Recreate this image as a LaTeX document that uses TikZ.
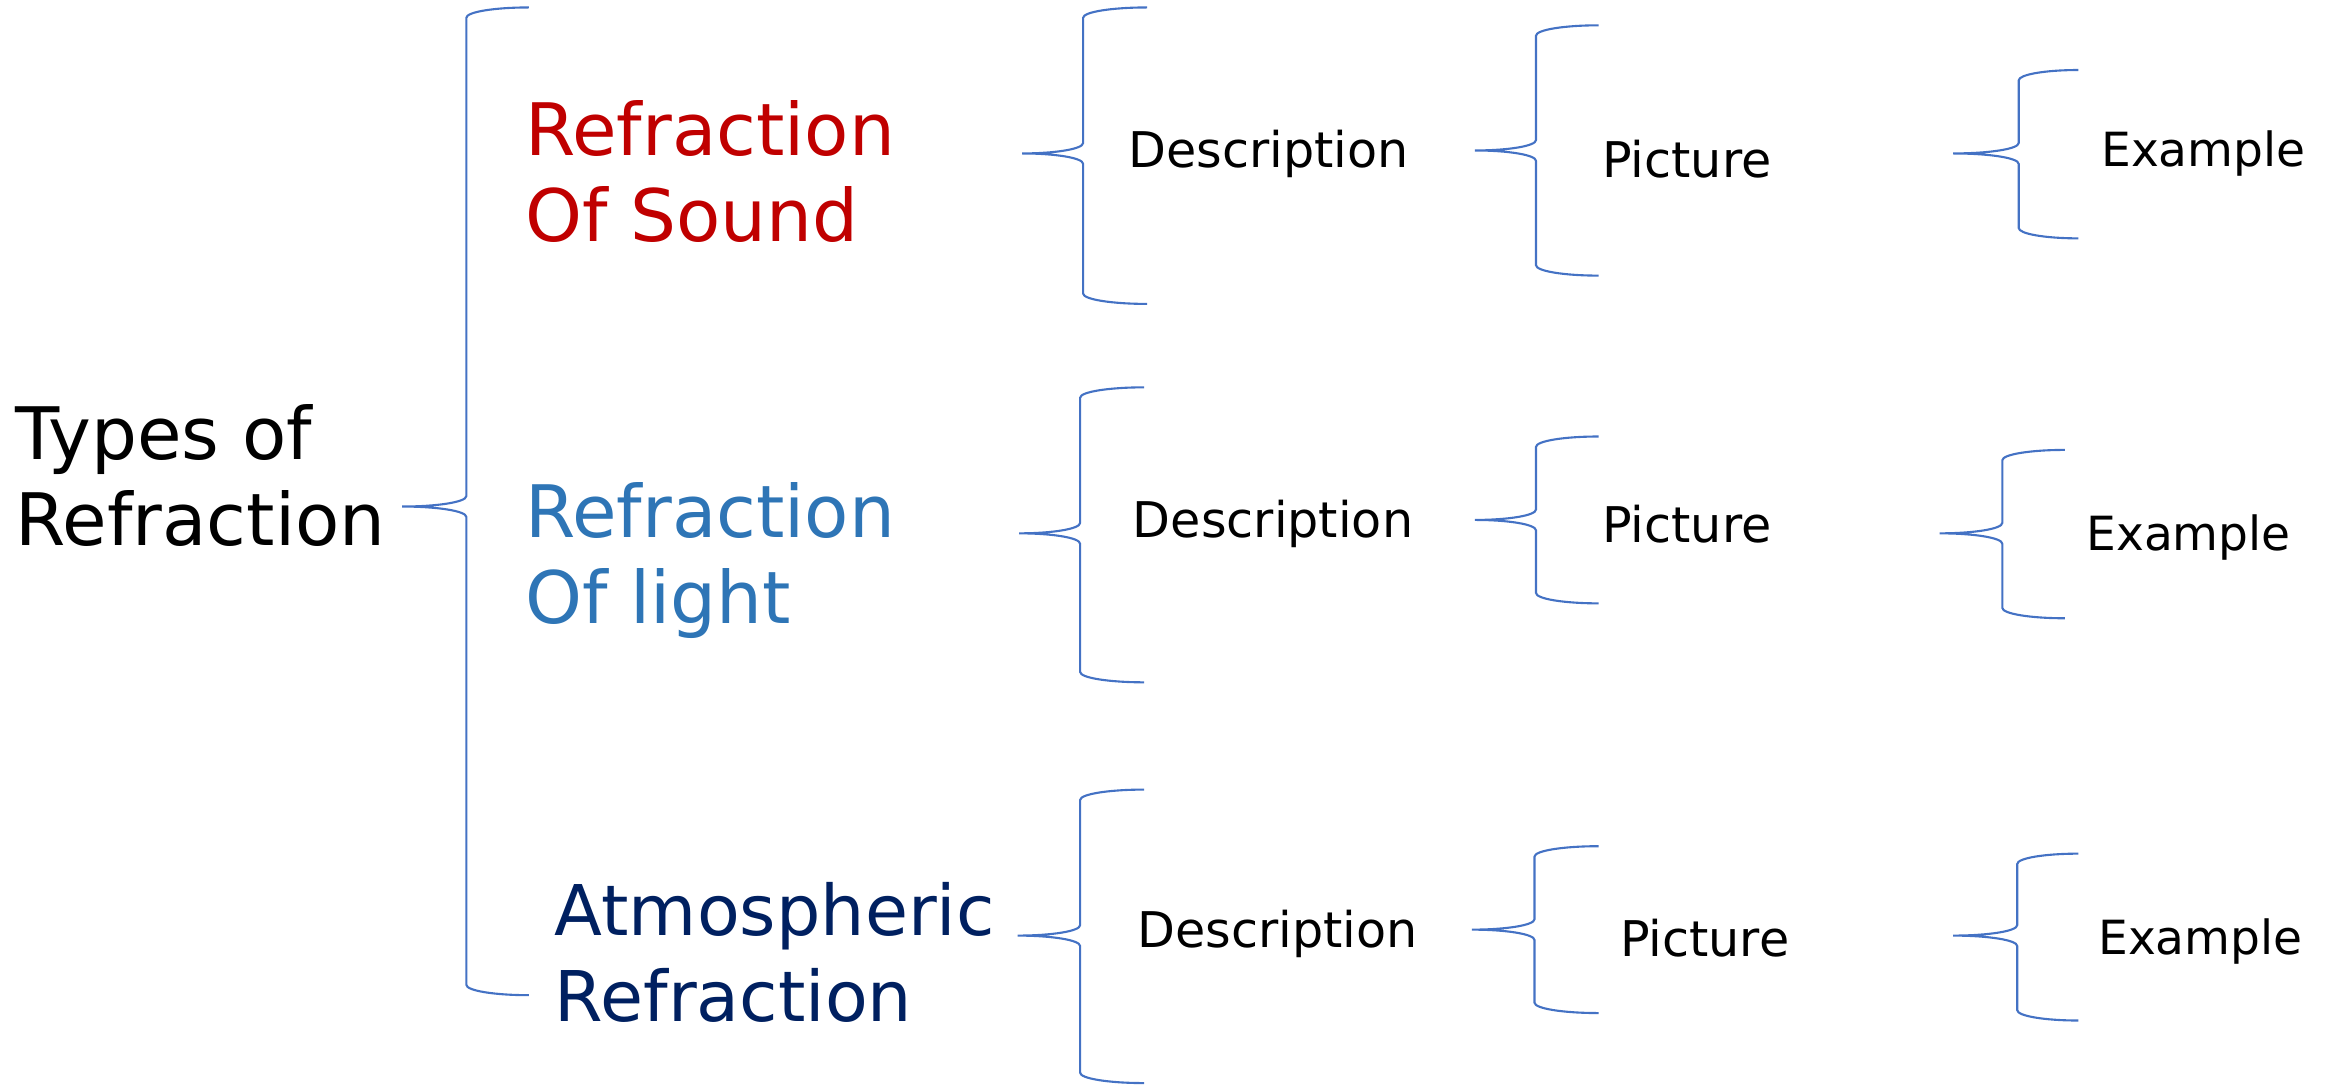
\documentclass[tikz,border=0pt]{standalone}
\usepackage{fontspec}
\setmainfont{DejaVu Sans}
\definecolor{bracecol}{HTML}{4472C4}
\definecolor{soundred}{HTML}{C00000}
\definecolor{lightblue}{HTML}{2E75B6}
\definecolor{atmosnavy}{HTML}{002060}
\tikzset{
  bracestroke/.style={bracecol, line width=0.6pt},
  bigtext/.style={anchor=west, inner sep=0pt, align=left, font=\fontsize{20.6}{24.5}\selectfont},
  smalltext/.style={anchor=west, inner sep=0pt, font=\fontsize{14}{17}\selectfont},
  extext/.style={smalltext, font=\fontsize{13.4}{16}\selectfont}
}
% left curly brace: #1 tip x, #2 stem x, #3 end x, #4 top y, #5 tip y, #6 bottom y
\newcommand{\curlybrace}[6]{%
  \draw[bracestroke] (#3,#4)
    .. controls ({#3-0.55*(#3-#2)},#4) and (#2,{#4+3}) .. (#2,{#4+7})
    -- (#2,{#5-7})
    .. controls (#2,{#5-3}) and ({#1+0.55*(#2-#1)},#5) .. (#1,#5)
    .. controls ({#1+0.55*(#2-#1)},#5) and (#2,{#5+3}) .. (#2,{#5+7})
    -- (#2,{#6-7})
    .. controls (#2,{#6-3}) and ({#3-0.55*(#3-#2)},#6) .. (#3,#6);}
\begin{document}
\begin{tikzpicture}[x=0.14898mm, y=-0.14898mm]
    \useasboundingbox (0,0) rectangle (1568,729);

    % root and main brace
    \node[bigtext] (types) at (10,319) {Types of\\Refraction};
    \curlybrace{270}{313}{355}{5}{340}{668}

    % the three kinds
    \node[bigtext, soundred] (sound) at (352,115) {Refraction\\Of Sound};
    \node[bigtext, lightblue] (light) at (352,376) {Refraction\\Of light};
    \node[bigtext, atmosnavy, font=\fontsize{19.9}{24.5}\selectfont] (atmos) at (372,639) {Atmospheric\\Refraction};

    % row of sound
    \curlybrace{686}{727}{770}{5}{103}{204}
    \node[smalltext] (desc1) at (757,103) {Description};
    \curlybrace{990}{1031}{1073}{17}{101}{185}
    \node[smalltext] (pic1) at (1075,107) {Picture};
    \curlybrace{1311}{1355}{1395}{47}{103}{160}
    \node[extext] (ex1) at (1410,103) {Example};

    % row of light
    \curlybrace{684}{725}{768}{260}{358}{458}
    \node[smalltext] (desc2) at (760,352) {Description};
    \curlybrace{990}{1031}{1073}{293}{349}{405}
    \node[smalltext] (pic2) at (1075,352) {Picture};
    \curlybrace{1302}{1344}{1386}{302}{358}{415}
    \node[extext] (ex2) at (1400,361) {Example};

    % row of atmospheric
    \curlybrace{683}{725}{768}{530}{628}{727}
    \node[smalltext] (desc3) at (763,627) {Description};
    \curlybrace{988}{1030}{1073}{568}{624}{680}
    \node[smalltext] (pic3) at (1087,630) {Picture};
    \curlybrace{1311}{1354}{1395}{573}{628}{685}
    \node[extext] (ex3) at (1408,632) {Example};
\end{tikzpicture}
\end{document}
